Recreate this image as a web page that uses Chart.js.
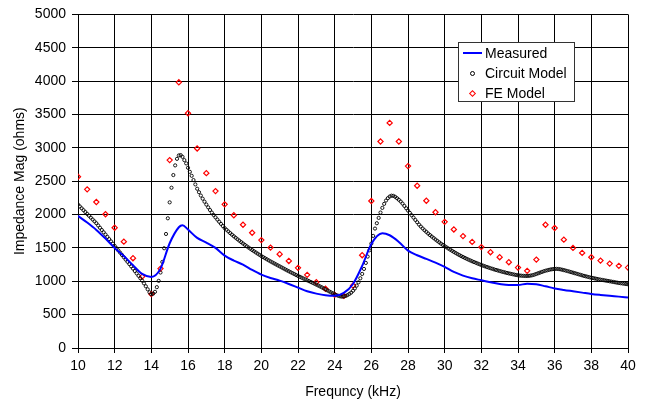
<!DOCTYPE html>
<html>
<head>
<meta charset="utf-8">
<script src="https://cdn.jsdelivr.net/npm/chart.js@4"></script>
<style>
  body { margin: 0; background: #fff; }
  #wrap { position: relative; width: 647px; height: 406px; }
  #legendBox {
    position: absolute; left: 458px; top: 42px; width: 115px; height: 58px;
    border: 1px solid #333; background: #fff;
    font-family: "Liberation Sans", Arial, sans-serif; font-size: 14px; color: #000;
  }
  .row { position: relative; height: 20px; line-height: 20px; padding-left: 26px; white-space: nowrap; }
  .mk { position: absolute; }
  .mk.line { left: 4px; top: 9px; width: 19px; height: 2px; background: #0000ff; }
  .mk.circ { left: 11px; top: 8px; width: 3px; height: 3px; border: 1px solid #000; border-radius: 50%; }
  .mk.diam { left: 11px; top: 8px; width: 3px; height: 3px; border: 1px solid #ff0000; transform: rotate(45deg); }
</style>
</head>
<body>
<div id="wrap">
  <canvas id="impChart" width="647" height="406"></canvas>
  <div id="legendBox">
    <div class="row"><span class="mk line"></span>Measured</div>
    <div class="row"><span class="mk circ"></span>Circuit Model</div>
    <div class="row"><span class="mk diam"></span>FE Model</div>
  </div>
</div>
<script>
// measured impedance (blue line)
const measFreq = [10, 10.5, 11, 11.5, 12, 12.5, 13, 13.5, 14, 14.5, 15, 15.5, 15.7, 16, 16.5, 17, 17.5, 18, 18.5, 19, 19.5,
    20, 20.5, 21, 21.5, 22, 22.5, 23, 23.5, 24, 24.5, 25, 25.5, 26, 26.6, 27, 27.5, 28, 28.5, 29, 29.5,
    30, 30.5, 31, 31.5, 32, 32.5, 33, 33.5, 34, 34.5, 35, 35.5, 36, 36.5, 37, 37.5, 38, 38.5, 39, 39.5, 40];
const measVal = [1980, 1880, 1770, 1640, 1500, 1380, 1240, 1110, 1065, 1190, 1570, 1810, 1840, 1775, 1650, 1580, 1500, 1385, 1310, 1250, 1170,
    1100, 1050, 1010, 960, 905, 850, 815, 790, 782, 825, 960, 1230, 1560, 1720, 1690, 1590, 1460, 1390, 1335, 1280,
    1215, 1140, 1085, 1045, 1015, 985, 960, 945, 945, 962, 955, 925, 893, 870, 850, 830, 810, 795, 782, 770, 757];

// circuit model, one value every 0.1 kHz from 10 to 40
const circuitStart = 10;
const circuitStep = 0.1;
const circuitVal = [
    2150, 2122, 2094, 2066, 2038, 2010, 1982, 1954, 1926, 1898,
    1870, 1836, 1802, 1768, 1734, 1700, 1666, 1632, 1598, 1564,
    1530, 1496, 1462, 1428, 1394, 1360, 1326, 1292, 1258, 1224,
    1190, 1154, 1118, 1082, 1046, 1010, 968, 925, 880, 835,
    805, 815, 842, 912, 1006, 1131, 1290, 1495, 1709, 1944,
    2183, 2402, 2592, 2737, 2835, 2886, 2891, 2865, 2816, 2767,
    2701, 2641, 2581, 2517, 2452, 2387, 2335, 2285, 2238, 2193,
    2150, 2108, 2068, 2030, 1993, 1958, 1925, 1892, 1860, 1828,
    1797, 1772, 1747, 1722, 1698, 1675, 1652, 1630, 1608, 1587,
    1566, 1546, 1526, 1506, 1487, 1468, 1450, 1432, 1414, 1396,
    1378, 1362, 1346, 1330, 1314, 1298, 1283, 1268, 1253, 1238,
    1224, 1209, 1194, 1179, 1164, 1150, 1136, 1122, 1108, 1094,
    1080, 1067, 1054, 1041, 1028, 1015, 1002, 989, 976, 963,
    950, 937, 923, 909, 894, 879, 864, 849, 834, 820,
    806, 793, 782, 774, 770, 772, 780, 793, 810, 830,
    858, 892, 935, 985, 1045, 1110, 1185, 1275, 1370, 1465,
    1565, 1680, 1790, 1870, 1950, 2030, 2100, 2160, 2210, 2245,
    2270, 2283, 2280, 2266, 2245, 2222, 2196, 2165, 2130, 2094,
    2060, 2025, 1990, 1955, 1920, 1885, 1850, 1820, 1792, 1765,
    1740, 1715, 1692, 1670, 1648, 1626, 1605, 1584, 1564, 1545,
    1527, 1509, 1491, 1474, 1457, 1440, 1424, 1408, 1393, 1378,
    1364, 1350, 1337, 1324, 1312, 1300, 1288, 1277, 1266, 1255,
    1244, 1234, 1224, 1214, 1205, 1196, 1187, 1178, 1170, 1162,
    1154, 1146, 1139, 1132, 1125, 1118, 1112, 1106, 1100, 1095,
    1090, 1086, 1083, 1081, 1080, 1080, 1082, 1086, 1092, 1100,
    1110, 1120, 1130, 1140, 1150, 1158, 1165, 1172, 1178, 1182,
    1185, 1186, 1184, 1180, 1174, 1167, 1160, 1153, 1145, 1137,
    1129, 1121, 1113, 1105, 1097, 1089, 1081, 1074, 1067, 1060,
    1054, 1048, 1042, 1036, 1030, 1025, 1020, 1015, 1010, 1005,
    1000, 995, 990, 985, 980, 975, 971, 967, 963, 959,
    955];

// FE model, every 0.5 kHz
const feFreq = [10, 10.5, 11, 11.5, 12, 12.5, 13, 13.5, 14, 14.5, 15, 15.5, 16, 16.5, 17, 17.5, 18, 18.5, 19, 19.5,
    20, 20.5, 21, 21.5, 22, 22.5, 23, 23.5, 24, 24.5, 25, 25.5, 26, 26.5, 27, 27.5, 28, 28.5, 29, 29.5,
    30, 30.5, 31, 31.5, 32, 32.5, 33, 33.5, 34, 34.5, 35, 35.5, 36, 36.5, 37, 37.5, 38, 38.5, 39, 39.5, 40];
const feVal = [2566, 2378, 2188, 2004, 1803, 1594, 1346, 1070, 808, 1190, 2816, 3982, 3519, 2991, 2621, 2352, 2153, 1989, 1848, 1727,
    1617, 1505, 1406, 1305, 1201, 1096, 987, 887, 797, 782, 936, 1391, 2203, 3095, 3374, 3095, 2726, 2432, 2207, 2034,
    1891, 1777, 1677, 1590, 1512, 1436, 1361, 1286, 1205, 1156, 1325, 1848, 1799, 1624, 1500, 1425, 1361, 1310, 1265, 1231, 1205];

const xTicks = [10, 12, 14, 16, 18, 20, 22, 24, 26, 28, 30, 32, 34, 36, 38, 40];
const yTicks = [0, 500, 1000, 1500, 2000, 2500, 3000, 3500, 4000, 4500, 5000];

function pairs(xs, ys) {
    return ys.map(function (y, i) { return { x: xs[i], y: y }; });
}
var circuitFreq = circuitVal.map(function (v, i) { return +(circuitStart + i * circuitStep).toFixed(1); });

const fontFam = '"Liberation Sans", Arial, sans-serif';
Chart.defaults.font.family = fontFam;
Chart.defaults.font.size = 14;
Chart.defaults.color = '#000';

const ctx = document.getElementById('impChart');
const impChart = new Chart(ctx, {
    type: 'scatter',
    data: {
        datasets: [{
            label: 'Measured',
            data: pairs(measFreq, measVal),
            showLine: true,
            borderColor: '#0000ff',
            borderWidth: 2,
            pointRadius: 0,
            cubicInterpolationMode: 'monotone'
        }, {
            label: 'Circuit Model',
            data: pairs(circuitFreq, circuitVal),
            showLine: false,
            pointStyle: 'circle',
            pointRadius: 1.6,
            borderWidth: 0.9,
            borderColor: '#000',
            backgroundColor: 'rgba(255,255,255,0)'
        }, {
            label: 'FE Model',
            data: pairs(feFreq, feVal),
            showLine: false,
            pointStyle: 'rectRot',
            pointRadius: 2.6,
            borderWidth: 1.2,
            borderColor: '#ff0000',
            backgroundColor: 'rgba(255,255,255,0)'
        }]
    },
    options: {
        responsive: false,
        animation: false,
        layout: { padding: { top: 14, right: 19, left: 0, bottom: 0 } },
        scales: {
            x: {
                type: 'linear',
                min: 10,
                max: 40,
                afterBuildTicks: function (s) { s.ticks = xTicks.map(function (v) { return { value: v }; }); },
                afterFit: function (s) { s.height = 58; },
                grid: { color: '#000', lineWidth: 1, tickLength: 5, tickColor: '#000' },
                border: { color: '#000', width: 1 },
                ticks: { padding: 5, maxRotation: 0, font: { size: 14 }, callback: function (v) { return String(v); } },
                title: { display: true, text: 'Frequncy (kHz)', padding: { top: 0, bottom: 5 }, font: { size: 14 } }
            },
            y: {
                min: 0,
                max: 5000,
                afterBuildTicks: function (s) { s.ticks = yTicks.map(function (v) { return { value: v }; }); },
                afterFit: function (s) { s.width = 78; },
                grid: { color: '#000', lineWidth: 1, tickLength: 6, tickColor: '#000' },
                border: { color: '#000', width: 1 },
                ticks: { padding: 6, font: { size: 14 }, callback: function (v) { return String(v); } },
                title: { display: true, text: 'Impedance Mag (ohms)', padding: { top: 12, bottom: 0 }, font: { size: 14 } }
            }
        },
        plugins: {
            legend: { display: false },
            tooltip: { enabled: false }
        }
    }
});
</script>
</body>
</html>
